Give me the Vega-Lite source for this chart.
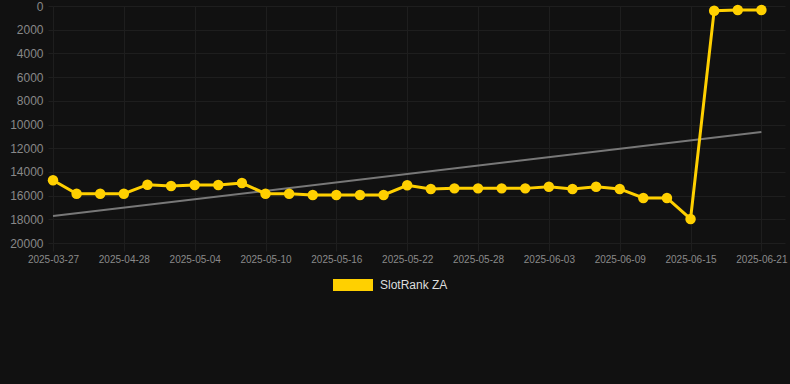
{
  "$schema": "https://vega.github.io/schema/vega-lite/v6.json",
  "width": 732,
  "height": 237,
  "autosize": {"type": "none"},
  "padding": {"left": 53, "top": 6, "right": 5, "bottom": 141},
  "background": "#111111",
  "config": {
    "view": {"stroke": null},
    "font": "Liberation Sans",
    "axis": {
      "gridColor": "#1e1e1e",
      "gridWidth": 1,
      "tickColor": "#1e1e1e",
      "domain": false,
      "labelColor": "#888888",
      "labelFont": "Liberation Sans",
      "title": null
    }
  },
  "datasets": {
    "rank": [
      {"date": "2025-03-27", "rank": 14700, "series": "SlotRank ZA"},
      {"date": "2025-04-24", "rank": 15840, "series": "SlotRank ZA"},
      {"date": "2025-04-26", "rank": 15840, "series": "SlotRank ZA"},
      {"date": "2025-04-28", "rank": 15840, "series": "SlotRank ZA"},
      {"date": "2025-04-30", "rank": 15080, "series": "SlotRank ZA"},
      {"date": "2025-05-02", "rank": 15190, "series": "SlotRank ZA"},
      {"date": "2025-05-04", "rank": 15100, "series": "SlotRank ZA"},
      {"date": "2025-05-06", "rank": 15100, "series": "SlotRank ZA"},
      {"date": "2025-05-08", "rank": 14940, "series": "SlotRank ZA"},
      {"date": "2025-05-10", "rank": 15840, "series": "SlotRank ZA"},
      {"date": "2025-05-12", "rank": 15840, "series": "SlotRank ZA"},
      {"date": "2025-05-14", "rank": 15950, "series": "SlotRank ZA"},
      {"date": "2025-05-16", "rank": 15950, "series": "SlotRank ZA"},
      {"date": "2025-05-18", "rank": 15950, "series": "SlotRank ZA"},
      {"date": "2025-05-20", "rank": 15950, "series": "SlotRank ZA"},
      {"date": "2025-05-22", "rank": 15130, "series": "SlotRank ZA"},
      {"date": "2025-05-24", "rank": 15440, "series": "SlotRank ZA"},
      {"date": "2025-05-26", "rank": 15390, "series": "SlotRank ZA"},
      {"date": "2025-05-28", "rank": 15390, "series": "SlotRank ZA"},
      {"date": "2025-05-30", "rank": 15390, "series": "SlotRank ZA"},
      {"date": "2025-06-01", "rank": 15390, "series": "SlotRank ZA"},
      {"date": "2025-06-03", "rank": 15250, "series": "SlotRank ZA"},
      {"date": "2025-06-05", "rank": 15440, "series": "SlotRank ZA"},
      {"date": "2025-06-07", "rank": 15250, "series": "SlotRank ZA"},
      {"date": "2025-06-09", "rank": 15440, "series": "SlotRank ZA"},
      {"date": "2025-06-11", "rank": 16200, "series": "SlotRank ZA"},
      {"date": "2025-06-13", "rank": 16200, "series": "SlotRank ZA"},
      {"date": "2025-06-15", "rank": 17970, "series": "SlotRank ZA"},
      {"date": "2025-06-17", "rank": 395, "series": "SlotRank ZA"},
      {"date": "2025-06-19", "rank": 340, "series": "SlotRank ZA"},
      {"date": "2025-06-21", "rank": 340, "series": "SlotRank ZA"}
    ],
    "trend": [
      {"date": "2025-03-27", "rank": 17720},
      {"date": "2025-06-21", "rank": 10630}
    ]
  },
  "encoding": {
    "x": {
      "field": "date",
      "type": "ordinal",
      "sort": "ascending",
      "scale": {"type": "point", "padding": 0.5, "align": 0},
      "axis": {
        "values": ["2025-03-27", "2025-04-28", "2025-05-04", "2025-05-10", "2025-05-16", "2025-05-22", "2025-05-28", "2025-06-03", "2025-06-09", "2025-06-15", "2025-06-21"],
        "labelAngle": 0,
        "labelFontSize": 10,
        "tickSize": 8,
        "labelPadding": 3,
        "grid": true,
        "labelColor": "#8a8a8a"
      }
    },
    "y": {
      "field": "rank",
      "type": "quantitative",
      "scale": {"domain": [0, 20000], "reverse": true, "nice": false, "zero": true},
      "axis": {
        "values": [0, 2000, 4000, 6000, 8000, 10000, 12000, 14000, 16000, 18000, 20000],
        "format": "d",
        "labelFontSize": 12,
        "tickSize": 5,
        "labelPadding": 5,
        "grid": true
      }
    }
  },
  "layer": [
    {
      "data": {"name": "trend"},
      "mark": {"type": "line", "color": "#787878", "strokeWidth": 2}
    },
    {
      "data": {"name": "rank"},
      "mark": {"type": "line", "strokeWidth": 3, "point": {"filled": true, "size": 110, "opacity": 1}},
      "encoding": {
        "color": {
          "field": "series",
          "type": "nominal",
          "scale": {"range": ["#FFD000"]},
          "legend": {
            "orient": "none",
            "legendX": 280,
            "legendY": 259,
            "direction": "horizontal",
            "title": null,
            "padding": 0,
            "symbolType": "M-1,-0.3L1,-0.3L1,0.3L-1,0.3Z",
            "symbolSize": 1600,
            "symbolStrokeWidth": 0,
            "symbolOpacity": 1,
            "labelFontSize": 12,
            "labelColor": "#dddddd",
            "labelOffset": 7,
            "labelFont": "Liberation Sans"
          }
        }
      }
    }
  ]
}
